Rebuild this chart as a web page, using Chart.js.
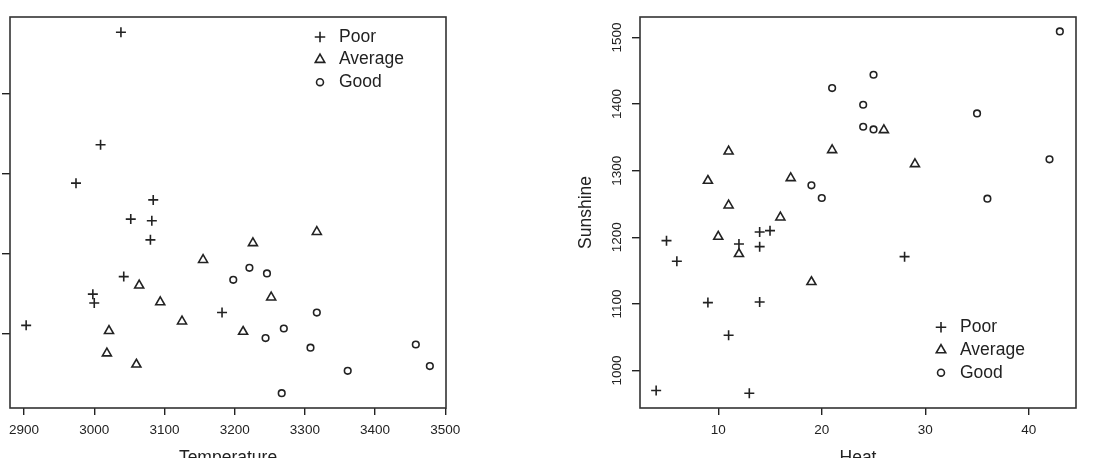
<!DOCTYPE html>
<html>
<head>
<meta charset="utf-8">
<script src="https://cdn.jsdelivr.net/npm/chart.js@4/dist/chart.umd.min.js"></script>
<style>
  html, body { margin: 0; padding: 0; background: #fff; overflow: hidden; }
  canvas { position: absolute; top: 0; }
  #left { left: 0; }
  #right { left: 552px; }
</style>
</head>
<body>
<canvas id="left" width="552" height="480"></canvas>
<canvas id="right" width="552" height="480"></canvas>
<script>
// quality groups
const groups = ['Poor', 'Average', 'Good'];

// left panel: Temperature vs (unlabelled) y variable
const poorTemperature = [3038, 3009, 2974, 3084, 3052, 3082, 3080, 3042, 2998, 3000, 2903, 3182];
const poorRain        = [677, 536, 488, 467, 443, 441, 417, 371, 349, 338, 310, 326];
const averageTemperature = [3317, 3226, 3155, 3064, 3252, 3094, 3125, 3021, 3212, 3018, 3060];
const averageRain        = [427, 413, 392, 360, 345, 339, 315, 303, 302, 275, 261];
const goodTemperature = [3221, 3246, 3198, 3317, 3270, 3244, 3308, 3458, 3361, 3478, 3267];
const goodRain        = [382, 375, 367, 326, 306, 294, 282, 286, 253, 259, 225];

// right panel: Heat vs Sunshine
const poorHeat     = [5, 6, 9, 11, 4, 13, 14, 15, 12, 14, 14, 28];
const poorSunshine = [1195, 1164, 1102, 1053, 970, 966, 1208, 1210, 1190, 1186, 1103, 1171];
const averageHeat     = [26, 11, 21, 29, 9, 17, 11, 16, 10, 12, 19];
const averageSunshine = [1361, 1329, 1331, 1310, 1285, 1289, 1248, 1230, 1201, 1175, 1133];
const goodHeat     = [43, 25, 21, 24, 24, 25, 35, 42, 19, 20, 36];
const goodSunshine = [1509, 1444, 1424, 1399, 1366, 1362, 1386, 1317, 1278, 1259, 1258];

// tick labels
const leftXTicks  = [2900, 3000, 3100, 3200, 3300, 3400, 3500];
const leftYTicks  = [300, 400, 500, 600];
const rightXTicks = [10, 20, 30, 40];
const rightYTicks = [1000, 1100, 1200, 1300, 1400, 1500];

const INK = '#222';
const STROKE = 1.6;
Chart.defaults.font.family = '"Liberation Sans", Arial, sans-serif';
Chart.defaults.color = INK;

const symbols = {
  Poor:    { pointStyle: 'cross',    pointRadius: 5 },
  Average: { pointStyle: 'triangle', pointRadius: 5.2 },
  Good:    { pointStyle: 'circle',   pointRadius: 3.3 }
};

function toPoints(xs, ys) {
  return xs.map((x, i) => ({ x: x, y: ys[i] }));
}

function makeDatasets(series) {
  return groups.map((g, i) => ({
    label: g,
    data: toPoints(series[i][0], series[i][1]),
    pointStyle: symbols[g].pointStyle,
    pointRadius: symbols[g].pointRadius,
    pointHoverRadius: symbols[g].pointRadius,
    pointBorderWidth: STROKE,
    borderWidth: STROKE,
    borderColor: INK,
    pointBorderColor: INK,
    backgroundColor: 'rgba(0,0,0,0)',
    pointBackgroundColor: 'rgba(0,0,0,0)'
  }));
}

// box around the plot region, like R's box()
const rBox = {
  id: 'rBox',
  afterDraw(chart) {
    const a = chart.chartArea, ctx = chart.ctx;
    ctx.save();
    ctx.strokeStyle = '#333';
    ctx.lineWidth = 1.6;
    ctx.strokeRect(a.left, a.top, a.right - a.left, a.bottom - a.top);
    ctx.restore();
  }
};

// legend drawn inside the plot, R style
const rLegend = {
  id: 'rLegend',
  afterDraw(chart, args, opts) {
    const ctx = chart.ctx;
    ctx.save();
    ctx.font = opts.size + 'px "Liberation Sans", Arial, sans-serif';
    ctx.textBaseline = 'middle';
    ctx.textAlign = 'left';
    chart.data.datasets.forEach((ds, i) => {
      const y = opts.y + i * opts.rowHeight;
      ctx.strokeStyle = INK;
      ctx.lineWidth = STROKE;
      ctx.fillStyle = 'rgba(0,0,0,0)';
      Chart.helpers.drawPoint(ctx, {
        pointStyle: ds.pointStyle, radius: ds.pointRadius * 1.05, borderWidth: STROKE, rotation: 0
      }, opts.x, y);
      ctx.fillStyle = INK;
      ctx.fillText(ds.label, opts.x + opts.gap, y);
    });
    ctx.restore();
  }
};

function axis(o) {
  return {
    type: 'linear',
    position: o.position,
    min: o.min,
    max: o.max,
    afterBuildTicks: s => { s.ticks = o.ticks.map(v => ({ value: v })); },
    afterFit: s => {
      if (o.position === 'bottom') s.height = o.size; else s.width = o.size;
    },
    grid: { drawOnChartArea: false, drawTicks: true, tickLength: o.tickLength, color: INK, lineWidth: 1.4 },
    border: { display: false },
    ticks: {
      display: o.showLabels,
      autoSkip: false,
      padding: o.padding,
      font: { size: 13.5 },
      color: INK,
      minRotation: o.rotation || 0,
      maxRotation: o.rotation || 0,
      crossAlign: o.crossAlign || 'near',
      callback: v => String(v)
    },
    title: {
      display: !!o.title,
      text: o.title || '',
      font: { size: 17.5 },
      color: INK,
      padding: o.titlePadding || 0
    }
  };
}

function makeChart(id, series, scales, padding, legend) {
  return new Chart(document.getElementById(id), {
    type: 'scatter',
    data: { datasets: makeDatasets(series) },
    options: {
      responsive: false,
      animation: false,
      devicePixelRatio: 1,
      events: [],
      layout: { padding: padding },
      scales: scales,
      plugins: {
        legend: { display: false },
        tooltip: { enabled: false },
        rLegend: legend
      }
    },
    plugins: [rBox, rLegend]
  });
}

makeChart('left',
  [[poorTemperature, poorRain], [averageTemperature, averageRain], [goodTemperature, goodRain]],
  {
    x: axis({ position: 'bottom', min: 2880, max: 3501, ticks: leftXTicks, size: 72, tickLength: 7,
              showLabels: true, padding: 7, title: 'Temperature', titlePadding: { top: 0, bottom: 11.5 } }),
    y: axis({ position: 'left', min: 206.5, max: 696, ticks: leftYTicks, size: 10, tickLength: 8,
              showLabels: false, padding: 0 })
  },
  { top: 17, right: 106, left: 0, bottom: 0 },
  { x: 320, y: 37, rowHeight: 22.6, gap: 19, size: 17.5 }
);

makeChart('right',
  [[poorHeat, poorSunshine], [averageHeat, averageSunshine], [goodHeat, goodSunshine]],
  {
    x: axis({ position: 'bottom', min: 2.44, max: 44.56, ticks: rightXTicks, size: 72, tickLength: 7,
              showLabels: true, padding: 7, title: 'Heat', titlePadding: { top: 0, bottom: 11.5 } }),
    y: axis({ position: 'left', min: 943.8, max: 1530.7, ticks: rightYTicks, size: 88, tickLength: 8,
              showLabels: true, padding: 0, rotation: 90, crossAlign: 'center',
              title: 'Sunshine', titlePadding: { top: 24, bottom: 0 } })
  },
  { top: 17, right: 28, left: 0, bottom: 0 },
  { x: 389, y: 327.3, rowHeight: 22.7, gap: 19, size: 17.5 }
);
</script>
</body>
</html>
